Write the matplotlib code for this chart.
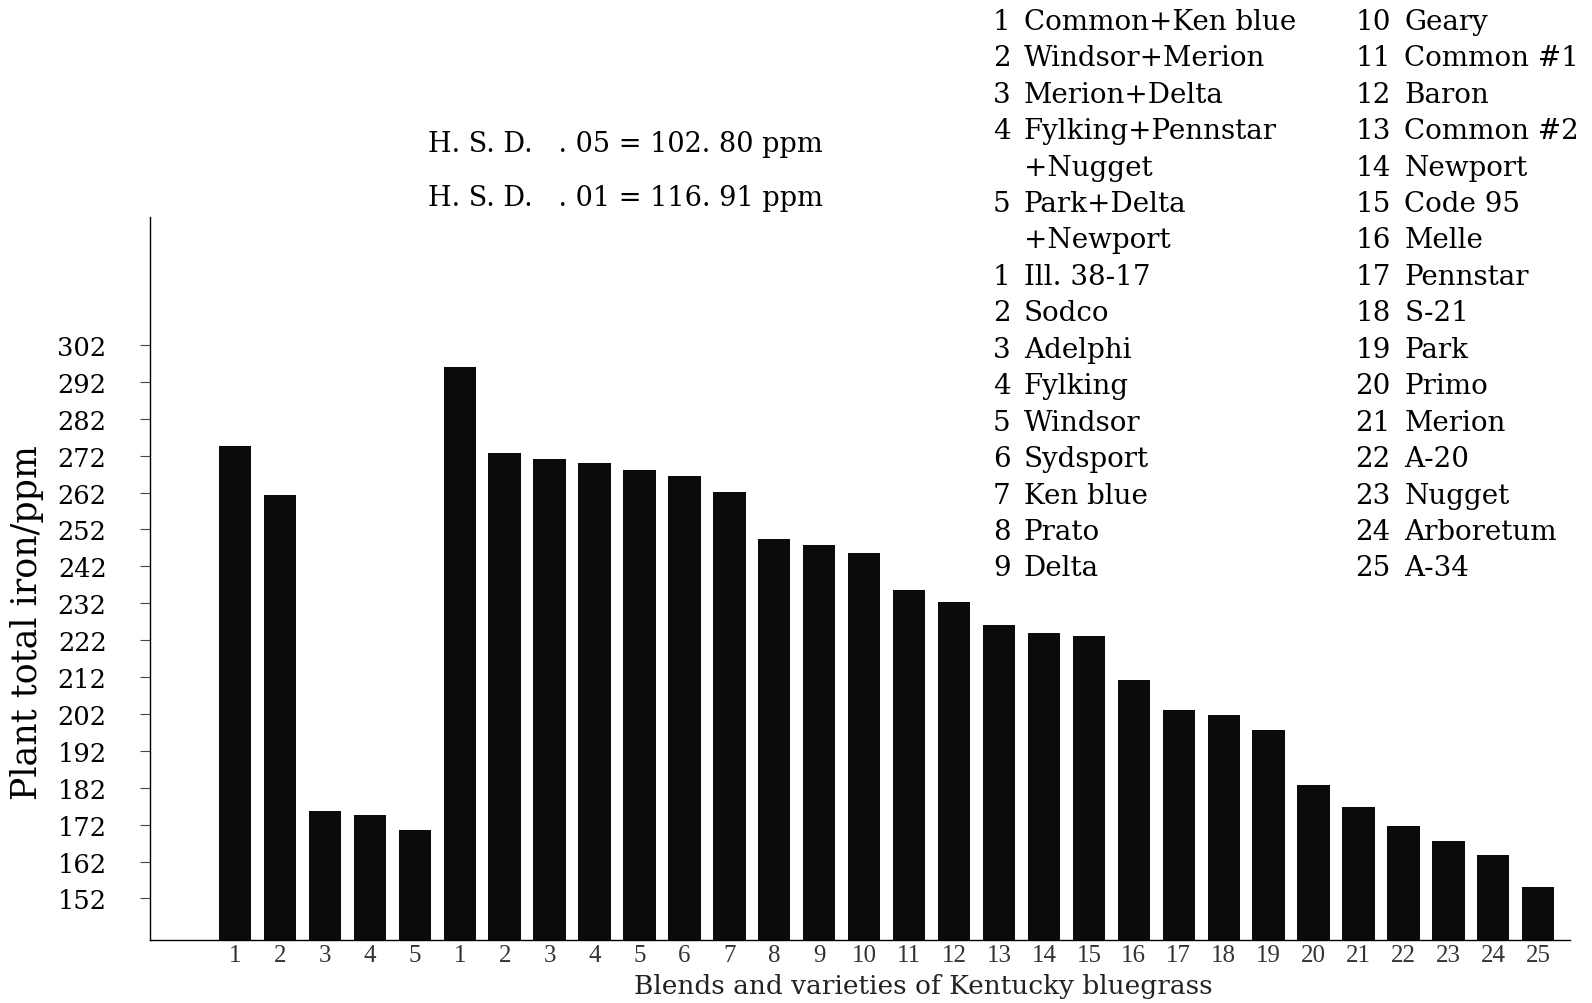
import matplotlib
matplotlib.use("Agg")
import matplotlib.pyplot as plt

# blends (5) followed by single varieties (25)
blend_ids = ["1", "2", "3", "4", "5"]
blend_iron = [274.5, 261.2, 175.6, 174.7, 170.6]
variety_ids = [str(i) for i in range(1, 26)]
variety_iron = [295.9, 272.8, 271.1, 270.0, 268.1, 266.5, 262.1, 249.4, 247.7, 245.5,
                235.6, 232.3, 226.0, 223.8, 223.2, 211.1, 203.1, 201.7, 197.6, 182.7,
                176.7, 171.7, 167.6, 163.7, 155.2]
y_ticks = [152, 162, 172, 182, 192, 202, 212, 222, 232, 242, 252, 262, 272, 282, 292, 302]

blend_names = ["Common+Ken blue", "Windsor+Merion", "Merion+Delta",
               "Fylking+Pennstar", "+Nugget", "Park+Delta", "+Newport"]
blend_nums = ["1", "2", "3", "4", "", "5", ""]
variety_names = ["Ill. 38-17", "Sodco", "Adelphi", "Fylking", "Windsor", "Sydsport",
                 "Ken blue", "Prato", "Delta", "Geary", "Common #1", "Baron", "Common #2",
                 "Newport", "Code 95", "Melle", "Pennstar", "S-21", "Park", "Primo",
                 "Merion", "A-20", "Nugget", "Arboretum", "A-34"]

hsd_lines = ["H. S. D.   . 05 = 102. 80 ppm", "H. S. D.   . 01 = 116. 91 ppm"]

serif = "DejaVu Serif"

fig = plt.figure(figsize=(15.92, 10.04), dpi=100)
ax = fig.add_axes([0.094, 0.063, 0.892, 0.72])

labels = blend_ids + variety_ids
values = blend_iron + variety_iron
x = list(range(len(values)))
ax.bar(x, values, width=0.72, color="#0b0b0b", bottom=0)

ax.set_ylim(140.8, 336.7)
ax.set_xlim(-1.9, 29.7)
ax.set_yticks(y_ticks)
ax.set_yticklabels([str(v) for v in y_ticks], fontsize=18.5, family=serif)
ax.set_xticks(x)
ax.set_xticklabels(labels, fontsize=18, family="Liberation Serif", color="#333333")
ax.tick_params(axis="y", length=7, pad=24, width=0.8, color="#444444")
ax.tick_params(axis="x", length=0, pad=3)

ax.spines["top"].set_visible(False)
ax.spines["right"].set_visible(False)
ax.spines["left"].set_linewidth(1.0)
ax.spines["bottom"].set_linewidth(1.0)

ax.set_xlabel("Blends and varieties of Kentucky bluegrass", fontsize=19, family=serif,
              color="#222222")
ax.xaxis.set_label_coords(0.545, -0.046)
ax.set_ylabel("Plant total iron/ppm", fontsize=25, family=serif)
ax.yaxis.set_label_coords(-0.0746, 0.44)

# H.S.D. notes
fig.text(0.269, 0.856, hsd_lines[0], fontsize=19.5, family=serif, va="center")
fig.text(0.269, 0.802, hsd_lines[1], fontsize=19.5, family=serif, va="center")

# key to the numbers
row0 = 0.9778
step = 0.0363
left_nums = blend_nums + [str(i) for i in range(1, 10)]
left_names = blend_names + variety_names[:9]
for i, (n, name) in enumerate(zip(left_nums, left_names)):
    y = row0 - i * step
    if n:
        fig.text(0.6237, y, n, fontsize=20, family=serif, va="center")
    fig.text(0.643, y, name, fontsize=20, family=serif, va="center")
for i, name in enumerate(variety_names[9:]):
    y = row0 - i * step
    fig.text(0.8514, y, str(i + 10), fontsize=20, family=serif, va="center")
    fig.text(0.882, y, name, fontsize=20, family=serif, va="center")

plt.savefig("out.png", dpi=100)
plt.close()
